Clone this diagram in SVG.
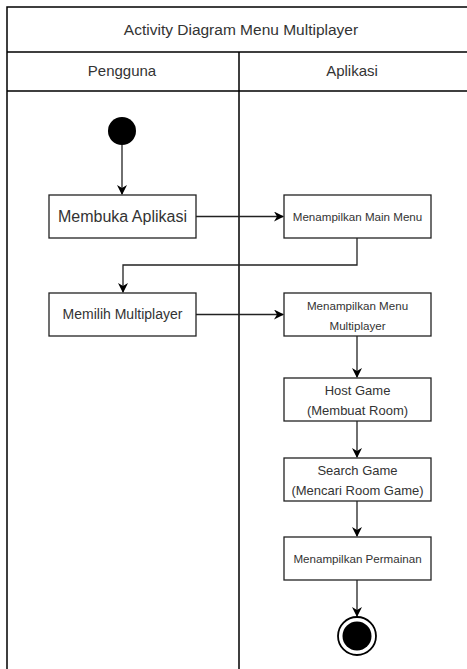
<svg xmlns="http://www.w3.org/2000/svg" width="467" height="669" viewBox="0 0 467 669">
<style>
.frame{fill:none;stroke:#000;stroke-width:1.5}
.box{fill:#fff;stroke:#222;stroke-width:1.3}
.t{font-family:"Liberation Sans",Arial,sans-serif;fill:#333;text-anchor:middle}
.c{fill:none;stroke:#222;stroke-width:1.3}
</style>
<defs>
<marker id="arr" viewBox="0 0 10 10" refX="9" refY="5" markerWidth="10" markerHeight="10" markerUnits="userSpaceOnUse" orient="auto">
<path d="M0,0 L10,5 L0,10 L3,5 Z" fill="#000"/>
</marker>
</defs>
<rect width="467" height="669" fill="#fff"/>
<g id="swimlanes">
<path class="frame" d="M7,669 V7 H467 M7,52 H467 M7,91 H467 M239,52 V669"/>
<text class="t" x="241" y="35" font-size="15.5">Activity Diagram Menu Multiplayer</text>
<text class="t" x="122" y="76" font-size="15">Pengguna</text>
<text class="t" x="352" y="76" font-size="15">Aplikasi</text>
</g>
<g id="start"><circle cx="122" cy="131" r="14" fill="#000"/></g>
<g id="membuka"><rect class="box" x="49" y="195" width="147" height="43"/><text class="t" x="122.5" y="222" font-size="16">Membuka Aplikasi</text></g>
<g id="mainmenu"><rect class="box" x="284" y="195" width="147" height="43"/><text class="t" x="357.5" y="221" font-size="11.6">Menampilkan Main Menu</text></g>
<g id="memilih"><rect class="box" x="49" y="293" width="147" height="43"/><text class="t" x="122.5" y="319" font-size="14">Memilih Multiplayer</text></g>
<g id="menumulti"><rect class="box" x="284" y="293" width="147" height="43"/><text class="t" x="357.5" y="310" font-size="11.6">Menampilkan Menu</text><text class="t" x="357.5" y="330" font-size="11.6">Multiplayer</text></g>
<g id="host"><rect class="box" x="284" y="378" width="147" height="43"/><text class="t" x="357.5" y="395" font-size="13">Host Game</text><text class="t" x="357.5" y="415" font-size="13">(Membuat Room)</text></g>
<g id="search"><rect class="box" x="284" y="458" width="147" height="43"/><text class="t" x="357.5" y="475" font-size="13">Search Game</text><text class="t" x="357.5" y="495" font-size="13">(Mencari Room Game)</text></g>
<g id="permainan"><rect class="box" x="284" y="537" width="147" height="43"/><text class="t" x="357.5" y="563" font-size="11.6">Menampilkan Permainan</text></g>
<g id="end"><circle cx="357" cy="636" r="19" fill="#fff" stroke="#000" stroke-width="1.8"/><circle cx="357" cy="636" r="14.5" fill="#000"/></g>
<g id="connectors">
<path class="c" d="M122,145 V194" marker-end="url(#arr)"/>
<path class="c" d="M196,216.5 H283" marker-end="url(#arr)"/>
<path class="c" d="M357,238 V265 H123 V292" marker-end="url(#arr)"/>
<path class="c" d="M196,314.5 H283" marker-end="url(#arr)"/>
<path class="c" d="M357,336 V377" marker-end="url(#arr)"/>
<path class="c" d="M357,421 V457" marker-end="url(#arr)"/>
<path class="c" d="M357,501 V536" marker-end="url(#arr)"/>
<path class="c" d="M357,580 V616" marker-end="url(#arr)"/>
</g>
</svg>
